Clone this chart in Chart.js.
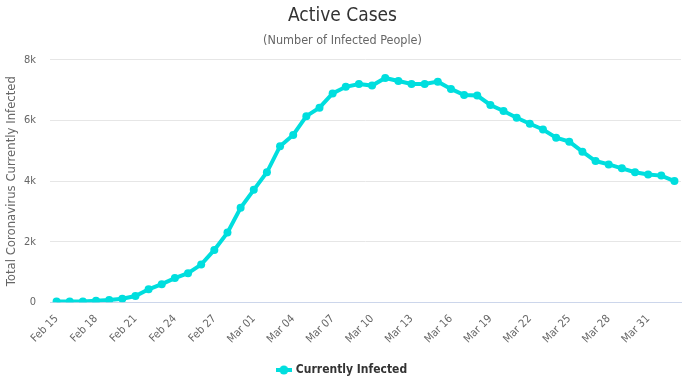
<!DOCTYPE html>
<html>
<head>
<meta charset="utf-8">
<script src="https://cdn.jsdelivr.net/npm/chart.js@4"></script>
<style>
  html, body { margin: 0; padding: 0; background: #fff; }
  #wrap { width: 690px; height: 382px; }
</style>
</head>
<body>
<div id="wrap"><canvas id="activeChart" width="690" height="382"></canvas></div>
<script>
// dates Feb 15 -> Apr 02 (2020)
const dates = [
  'Feb 15', 'Feb 16', 'Feb 17', 'Feb 18', 'Feb 19', 'Feb 20', 'Feb 21', 'Feb 22', 'Feb 23', 'Feb 24',
  'Feb 25', 'Feb 26', 'Feb 27', 'Feb 28', 'Feb 29', 'Mar 01', 'Mar 02', 'Mar 03', 'Mar 04', 'Mar 05',
  'Mar 06', 'Mar 07', 'Mar 08', 'Mar 09', 'Mar 10', 'Mar 11', 'Mar 12', 'Mar 13', 'Mar 14', 'Mar 15',
  'Mar 16', 'Mar 17', 'Mar 18', 'Mar 19', 'Mar 20', 'Mar 21', 'Mar 22', 'Mar 23', 'Mar 24', 'Mar 25',
  'Mar 26', 'Mar 27', 'Mar 28', 'Mar 29', 'Mar 30', 'Mar 31', 'Apr 01', 'Apr 02'
];

const currentlyInfected = [
  30, 30, 30, 50, 75, 120, 210, 430, 600, 800,
  960, 1245, 1730, 2300, 3120, 3710, 4290, 5150, 5520, 6140,
  6420, 6890, 7110, 7200, 7150, 7400, 7300, 7200, 7200, 7280,
  7040, 6840, 6820, 6510, 6310, 6090, 5890, 5700, 5430, 5300,
  4970, 4660, 4550, 4420, 4290, 4220, 4180, 4000
];

const yTicks = [0, 2000, 4000, 6000, 8000];
const yTickLabels = ['0', '2k', '4k', '6k', '8k'];

const FONT = '"DejaVu Sans Condensed", "DejaVu Sans", sans-serif';
const lineColor = '#00dede';

// legend symbol: short line with a dot in the middle
function legendSymbol() {
  const c = document.createElement('canvas');
  c.width = 16; c.height = 10;
  const g = c.getContext('2d');
  g.strokeStyle = lineColor;
  g.lineWidth = 4;
  g.beginPath(); g.moveTo(0, 5); g.lineTo(16, 5); g.stroke();
  g.fillStyle = lineColor;
  g.beginPath(); g.arc(8, 5, 4.5, 0, Math.PI * 2); g.fill();
  return c;
}

// nudge the legend a few px lower than the layout puts it
const legendNudge = {
  id: 'legendNudge',
  afterLayout(chart) {
    const lg = chart.legend;
    if (!lg) return;
    lg.top += 4;
    lg.bottom += 4;
    if (lg.legendHitBoxes) lg.legendHitBoxes.forEach(b => { b.top += 4; });
  }
};

const ctx = document.getElementById('activeChart').getContext('2d');
new Chart(ctx, {
  type: 'line',
  plugins: [legendNudge],
  data: {
    labels: dates,
    datasets: [{
      label: 'Currently Infected',
      data: currentlyInfected,
      borderColor: lineColor,
      backgroundColor: lineColor,
      borderWidth: 4,
      pointRadius: 4,
      pointHoverRadius: 4,
      pointBorderWidth: 0,
      tension: 0
    }]
  },
  options: {
    responsive: false,
    animation: false,
    layout: { padding: { left: 4, right: 9, top: 5, bottom: 0 } },
    plugins: {
      title: {
        display: true,
        text: 'Active Cases',
        color: '#333333',
        font: { family: FONT, size: 19, weight: 'normal' },
        padding: { top: 0, bottom: 5 }
      },
      subtitle: {
        display: true,
        text: '(Number of Infected People)',
        color: '#666666',
        font: { family: FONT, size: 12.5 },
        padding: { bottom: 12 }
      },
      legend: {
        position: 'bottom',
        labels: {
          color: '#333333',
          font: { family: FONT, size: 12, weight: 'bold' },
          usePointStyle: true,
          padding: 2,
          generateLabels: (chart) => chart.data.datasets.map((ds, i) => ({
            text: ds.label,
            pointStyle: legendSymbol(),
            fontColor: '#333333',
            hidden: false,
            datasetIndex: i
          }))
        }
      },
      tooltip: { enabled: false }
    },
    scales: {
      x: {
        offset: true,
        grid: { display: false },
        border: { color: '#ccd6eb', width: 1 },
        afterFit: (scale) => { scale.height += 10; },
        ticks: {
          autoSkip: false,
          maxRotation: 45,
          minRotation: 45,
          color: '#666666',
          font: { family: FONT, size: 11 },
          padding: 2,
          callback: (v, i) => (i % 3 === 0 ? dates[i] : '')
        }
      },
      y: {
        min: 0,
        max: 8000,
        afterBuildTicks: (axis) => { axis.ticks = yTicks.map(v => ({ value: v })); },
        afterFit: (scale) => { scale.width = 46; },
        grid: { color: '#e6e6e6', drawTicks: false },
        border: { display: false },
        ticks: {
          color: '#666666',
          font: { family: FONT, size: 11 },
          padding: 14,
          callback: (v) => yTickLabels[yTicks.indexOf(v)]
        },
        title: {
          display: true,
          text: 'Total Coronavirus Currently Infected',
          color: '#666666',
          font: { family: FONT, size: 13 },
          padding: { top: 0, bottom: 0 }
        }
      }
    }
  }
});
</script>
</body>
</html>
